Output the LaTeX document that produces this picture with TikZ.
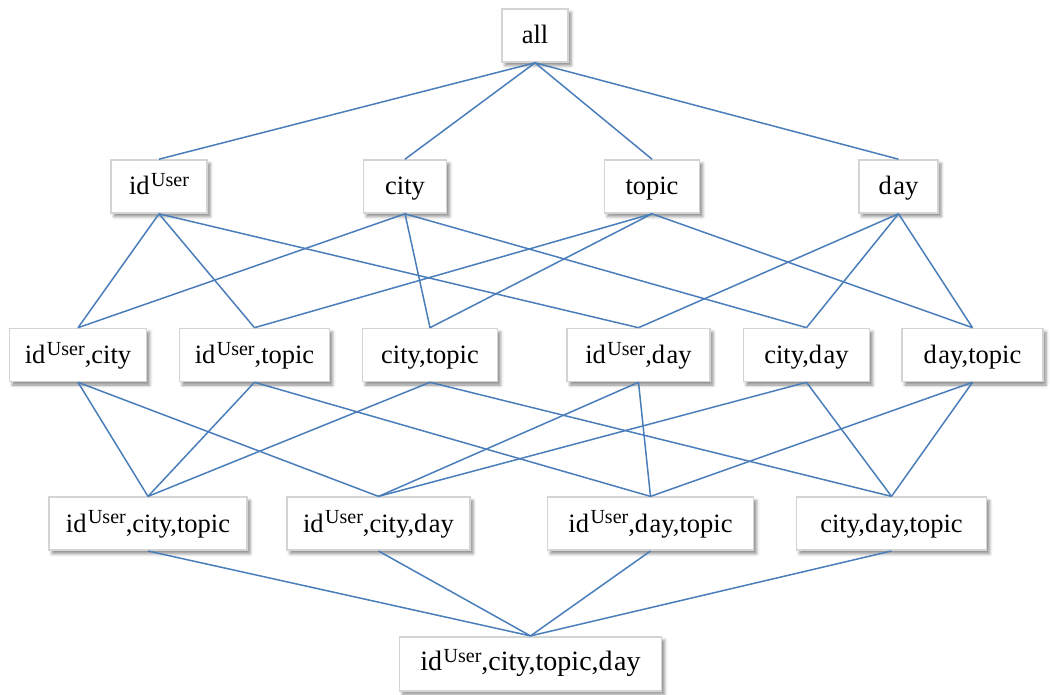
\documentclass[tikz,border=0pt]{standalone}
\usepackage{fontspec}
\setmainfont{Liberation Serif}
\usetikzlibrary{shadows.blur}
\definecolor{edgeblue}{HTML}{4A7EBB}
\definecolor{boxborder}{HTML}{D4D4D4}
\newcommand{\myidu}{id\kern1.5pt\raisebox{8.5pt}{\fontsize{20}{21}\selectfont User}}
\newcommand{\myday}{d\kern1.5pt ay}
\tikzset{
  lattice/.style={draw=boxborder, line width=1.6pt, fill=white, inner sep=0pt,
    minimum height=53pt, text height=18pt, text depth=1pt,
    font=\fontsize{26.5}{30}\selectfont,
    blur shadow={shadow xshift=3pt, shadow yshift=-3.5pt, shadow blur radius=3pt, shadow opacity=45}},
  link/.style={draw=edgeblue, line width=1.5pt}
}
\begin{document}
\begin{tikzpicture}[x=1pt, y=-1pt]
\useasboundingbox (0,0) rectangle (1052,695);
% level 0
\node[lattice, minimum width=66pt] (all) at (535,35.5) {all};
% level 1
\node[lattice, minimum width=96pt] (u) at (159,186.5) {\myidu};
\node[lattice, minimum width=83pt] (c) at (405,186.5) {city};
\node[lattice, minimum width=95pt] (t) at (652,186.5) {topic};
\node[lattice, minimum width=79pt] (d) at (898.5,186.5) {\myday};
% level 2
\node[lattice, minimum width=137pt] (uc) at (78,355) {\myidu,city};
\node[lattice, minimum width=150pt] (ut) at (254.5,355) {\myidu,topic};
\node[lattice, minimum width=135pt] (ct) at (430,355) {city,topic};
\node[lattice, minimum width=143pt] (ud) at (638.5,355) {\myidu,\myday};
\node[lattice, minimum width=126pt] (cd) at (806.5,355) {city,\myday};
\node[lattice, minimum width=141pt] (dt) at (972.5,355) {\myday,topic};
% level 3
\node[lattice, minimum width=198pt] (uct) at (148,523.7) {\myidu,city,topic};
\node[lattice, minimum width=183pt] (ucd) at (378.5,523.7) {\myidu,city,\myday};
\node[lattice, minimum width=206pt] (udt) at (650.5,523.7) {\myidu,\myday,topic};
\node[lattice, minimum width=190pt] (cdt) at (891.5,523.7) {city,\myday,topic};
% level 4
\node[lattice, minimum width=262pt, minimum height=54pt, text depth=4pt,
  font=\fontsize{28}{32}\selectfont] (all4) at (530.5,663.7) {\myidu,city,topic,\myday};
% edges level 0-1
\foreach \b in {u,c,t,d} \draw[link] (all.south) -- (\b.north);
% edges level 1-2
\foreach \a/\b in {u/uc,u/ut,u/ud,c/uc,c/ct,c/cd,t/ut,t/ct,t/dt,d/ud,d/cd,d/dt}
  \draw[link] (\a.south) -- (\b.north);
% edges level 2-3
\foreach \a/\b in {uc/uct,uc/ucd,ut/uct,ut/udt,ct/uct,ct/cdt,ud/ucd,ud/udt,cd/ucd,cd/cdt,dt/udt,dt/cdt}
  \draw[link] (\a.south) -- (\b.north);
% edges level 3-4
\foreach \a in {uct,ucd,udt,cdt} \draw[link] (\a.south) -- (all4.north);
\end{tikzpicture}
\end{document}
